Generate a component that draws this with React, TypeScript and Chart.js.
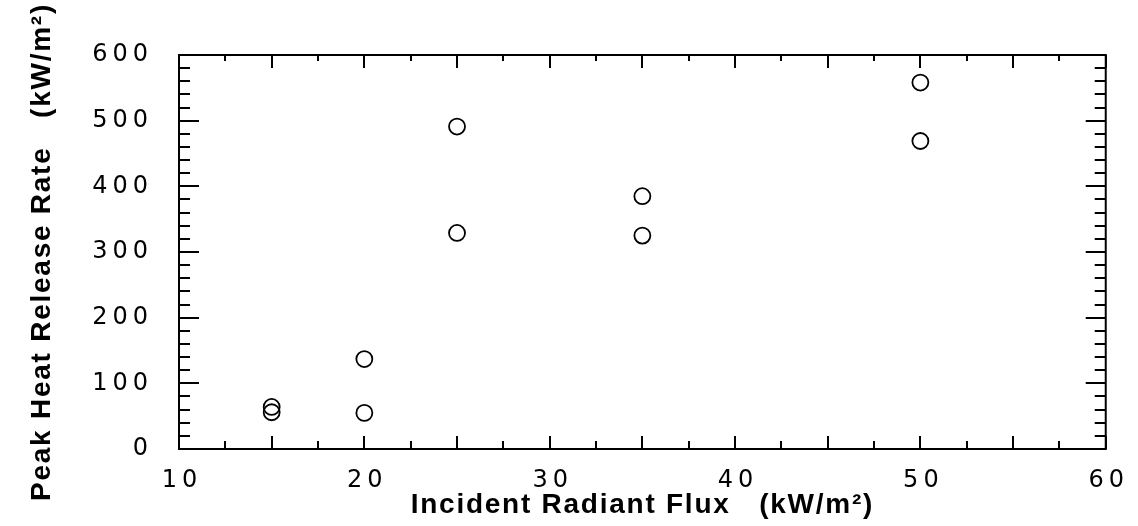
import React, { useEffect, useRef } from "react";
import { Chart, registerables } from "chart.js";

Chart.register(...registerables);

// Data
const fluxValues = [15, 15, 20, 20, 25, 25, 35, 35, 50, 50];
const peakHrrValues = [64, 56, 137, 55, 491, 329, 385, 325, 558, 469];

// Axis settings
const xTickValues = [10, 20, 30, 40, 50, 60];
const yTickValues = [0, 100, 200, 300, 400, 500, 600];
const xMinorStep = 2.5;
const xMajorStep = 5;
const yMinorStep = 20;
const yMajorStep = 100;

const xTitle = "Incident Radiant Flux   (kW/m\u00B2)";
const yTitle = "Peak Heat Release Rate   (kW/m\u00B2)";

const TITLE_FONT = "'Liberation Sans', Arial, Helvetica, sans-serif";
const TICK_FONT = "'DejaVu Sans', Verdana, sans-serif";

const spacingPlugin = {
  id: "spacing",
  beforeDraw(chart: any) {
    chart.ctx.letterSpacing = "1.75px";
  },
  afterDatasetsDraw(chart: any) {
    chart.ctx.letterSpacing = "5px";
  },
  afterDraw(chart: any) {
    const { ctx, chartArea: a, scales } = chart;
    const x = scales.x;
    const y = scales.y;
    ctx.save();
    ctx.letterSpacing = "0px";
    ctx.strokeStyle = "#000";
    ctx.lineWidth = 2;
    ctx.strokeRect(a.left, a.top, a.right - a.left, a.bottom - a.top);
    ctx.beginPath();
    const xmin = x.min, xmax = x.max;
    for (let v = xmin; v <= xmax + 1e-9; v += xMinorStep) {
      const px = Math.round(x.getPixelForValue(v));
      const major = Math.abs(v / xMajorStep - Math.round(v / xMajorStep)) < 1e-6;
      const lb = major ? 13 : 8;
      const lt = major ? 13 : 6;
      ctx.moveTo(px, a.bottom);
      ctx.lineTo(px, a.bottom - lb);
      ctx.moveTo(px, a.top);
      ctx.lineTo(px, a.top + lt);
    }
    const ymin = y.min, ymax = y.max;
    for (let v = ymin; v <= ymax + 1e-9; v += yMinorStep) {
      const py = Math.round(y.getPixelForValue(v));
      const major = Math.abs(v / yMajorStep - Math.round(v / yMajorStep)) < 1e-6;
      const l = major ? 20 : 11;
      ctx.moveTo(a.left, py);
      ctx.lineTo(a.left + l, py);
      ctx.moveTo(a.right, py);
      ctx.lineTo(a.right - l, py);
    }
    ctx.stroke();
    ctx.restore();
    ctx.letterSpacing = "0px";
  },
};

export default function App() {
  const ref = useRef<HTMLCanvasElement | null>(null);

  useEffect(() => {
    if (!ref.current) return;
    const chart = new Chart(ref.current, {
      type: "scatter",
      data: {
        datasets: [
          {
            label: "Peak HRR",
            data: fluxValues.map((f, i) => ({ x: f, y: peakHrrValues[i] })),
            pointStyle: "circle",
            pointRadius: 8,
            pointBackgroundColor: "rgba(255,255,255,0)",
            pointBorderColor: "#000",
            pointBorderWidth: 1.8,
          },
        ],
      },
      options: {
        responsive: false,
        animation: false,
        events: [],
        layout: { padding: { top: 55, right: 30, left: 0, bottom: 0 } },
        plugins: {
          legend: { display: false },
          tooltip: { enabled: false },
        },
        scales: {
          x: {
            type: "linear",
            min: xTickValues[0],
            max: xTickValues[xTickValues.length - 1],
            afterBuildTicks: (s: any) => {
              s.ticks = xTickValues.map((v) => ({ value: v }));
            },
            afterFit: (s: any) => {
              s.height = 77;
            },
            grid: { display: false, drawTicks: false },
            border: { display: false },
            ticks: {
              z: 1,
              padding: 17,
              labelOffset: 3,
              color: "#000",
              maxRotation: 0,
              font: { family: TICK_FONT, size: 24 },
            },
            title: {
              display: true,
              text: xTitle,
              color: "#000",
              font: { family: TITLE_FONT, size: 28, weight: "bold" },
              padding: { top: 0, bottom: 4 },
            },
          },
          y: {
            type: "linear",
            min: yTickValues[0],
            max: yTickValues[yTickValues.length - 1],
            afterBuildTicks: (s: any) => {
              s.ticks = yTickValues.map((v) => ({ value: v }));
            },
            afterFit: (s: any) => {
              s.width = 179;
            },
            grid: { display: false, drawTicks: false },
            border: { display: false },
            ticks: {
              z: 1,
              padding: 26,
              color: "#000",
              font: { family: TICK_FONT, size: 24 },
            },
            title: {
              display: true,
              text: yTitle,
              color: "#000",
              font: { family: TITLE_FONT, size: 28, weight: "bold" },
              padding: { top: 25, bottom: 0 },
            },
          },
        },
      },
      plugins: [spacingPlugin],
    });
    return () => chart.destroy();
  }, []);

  return (
    <div style={{ position: "fixed", left: 0, top: 0, width: 1138, height: 526, background: "#fff" }}>
      <canvas ref={ref} width={1138} height={526} style={{ display: "block" }} />
    </div>
  );
}
